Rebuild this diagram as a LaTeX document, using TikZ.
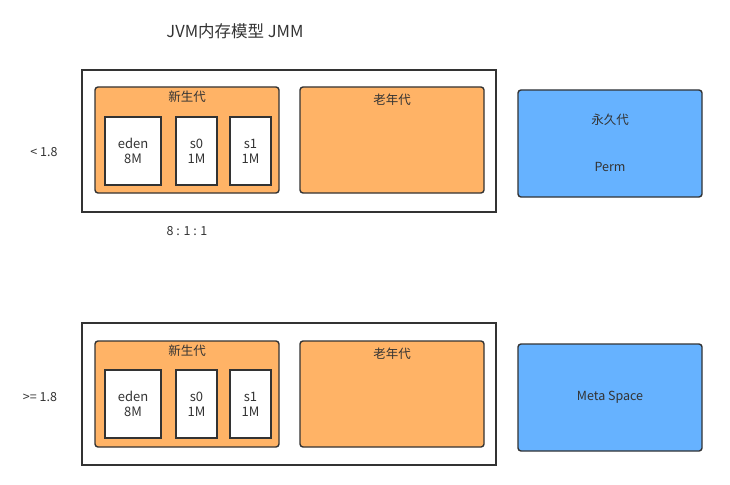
\documentclass[tikz,border=0pt]{standalone}
\usepackage{fontspec}
\setmainfont{Noto Sans CJK SC}
\usetikzlibrary{positioning, calc}
\definecolor{gencolor}{RGB}{255, 179, 102}
\definecolor{permcolor}{RGB}{102, 178, 255}
\definecolor{edgecolor}{RGB}{51, 51, 51}

\begin{document}
\begin{tikzpicture}[
    x=1pt, y=-1pt,
    outer/.style={draw=edgecolor, line width=1.6pt, minimum width=414pt, minimum height=142pt},
    gen/.style={draw=edgecolor, line width=1.4pt, rounded corners=3pt, fill=gencolor, minimum width=184pt, minimum height=106pt},
    space/.style={draw=edgecolor, line width=1.4pt, rounded corners=3pt, fill=permcolor, minimum width=184pt, minimum height=107pt, font=\fontsize{12.5}{14}\selectfont, text=edgecolor},
    cell/.style={draw=edgecolor, line width=1.6pt, fill=white, minimum height=68pt, align=center, font=\fontsize{13}{15}\selectfont, text=edgecolor},
    tag/.style={font=\fontsize{12.5}{14}\selectfont, text=edgecolor}
]
    \useasboundingbox (0,0) rectangle (730,484);
    \node[font=\fontsize{16.5}{18}\selectfont, text=edgecolor] (title) at (235,31) {JVM内存模型 JMM};

    % before 1.8
    \node[tag] (verA) at (44,152) {< 1.8};
    \node[outer] (heapA) at (289,141) {};
    \node[gen] (youngA) at (187,140) {};
    \node[tag, below=1pt of youngA.north] (youngtagA) {新生代};
    \node[cell, minimum width=56pt] (edenA) at (133,151) {eden\\8M};
    \node[cell, minimum width=41pt] (szeroA) at (196.5,151) {s0\\1M};
    \node[cell, minimum width=41pt] (soneA) at (250.5,151) {s1\\1M};
    \node[gen] (oldA) at (392,140) {};
    \node[tag, below=4pt of oldA.north] (oldtagA) {老年代};
    \node[space] (perm) at (610,143.5) {};
    \node[tag] (permtag) at (610,120) {永久代};
    \node[tag] (permname) at (610,167) {Perm};
    \node[tag] (ratio) at (187,231) {8 : 1 : 1};

    % from 1.8 on
    \node[tag] (verB) at (40,397) {>= 1.8};
    \node[outer] (heapB) at (289,394) {};
    \node[gen] (youngB) at (187,394) {};
    \node[tag, below=1pt of youngB.north] (youngtagB) {新生代};
    \node[cell, minimum width=56pt] (edenB) at (133,404) {eden\\8M};
    \node[cell, minimum width=41pt] (szeroB) at (196.5,404) {s0\\1M};
    \node[cell, minimum width=41pt] (soneB) at (250.5,404) {s1\\1M};
    \node[gen] (oldB) at (392,394) {};
    \node[tag, below=4pt of oldB.north] (oldtagB) {老年代};
    \node[space] (meta) at (610,397.5) {Meta Space};
\end{tikzpicture}
\end{document}
